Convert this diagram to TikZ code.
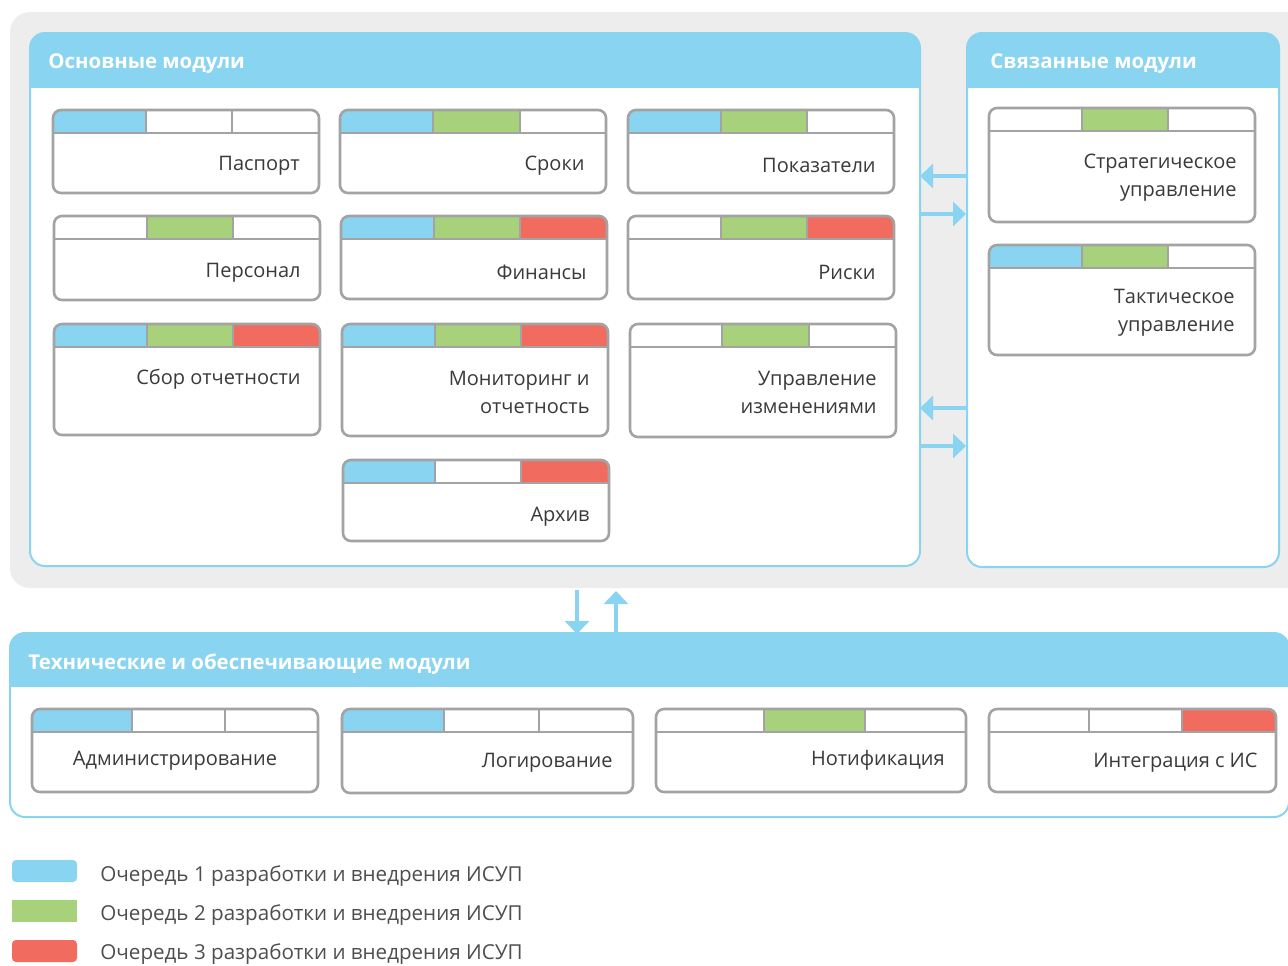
\documentclass[tikz,border=0pt]{standalone}
\usepackage{fontspec}
\setmainfont{Open Sans}
\usetikzlibrary{arrows.meta}
\definecolor{cblue}{HTML}{89D4F1}
\definecolor{cgreen}{HTML}{A7D27B}
\definecolor{cred}{HTML}{F16C5E}
\definecolor{bggray}{HTML}{EDEDED}
\definecolor{mline}{HTML}{A3A3A3}
\definecolor{txt}{HTML}{3A3A3A}
\tikzset{
  modline/.style={draw=mline, line width=1.3pt},
  panelline/.style={draw=cblue, line width=1pt},
  lbl/.style={inner sep=0pt, font=\fontsize{10}{14}\selectfont, text=txt, yshift=-1.3pt},
  hdr/.style={inner sep=0pt, font=\bfseries\fontsize{10.2}{14}\selectfont, text=white, anchor=west, yshift=-1.4pt},
  leg/.style={inner sep=0pt, font=\fontsize{10.3}{14}\selectfont, text=txt!90, anchor=west, yshift=-1.2pt},
  flow/.style={draw=cblue, line width=2.2pt, -{Triangle[width=12pt,length=6.5pt]}},
}
\newcommand\modul[9]{%
  \begin{scope}
    \clip[rounded corners=4pt] (#1,#2) rectangle (#3,#4);
    \fill[#7] (#1,#2) rectangle (#5,{#2+23});
    \fill[#8] (#5,#2) rectangle (#6,{#2+23});
    \fill[#9] (#6,#2) rectangle (#3,{#2+23});
  \end{scope}
  \draw[modline] (#1,{#2+23}) -- (#3,{#2+23}) (#5,#2) -- (#5,{#2+23}) (#6,#2) -- (#6,{#2+23});
  \draw[modline, rounded corners=4pt] (#1,#2) rectangle (#3,#4);
}
\newcommand\panel[5]{% x1 y1 x2 y2 headerbottom
  \fill[white, rounded corners=7.5pt] (#1,#2) rectangle (#3,#4);
  \begin{scope}
    \clip[rounded corners=7.5pt] (#1,#2) rectangle (#3,#4);
    \fill[cblue] (#1,#2) rectangle (#3,#5);
  \end{scope}
  \draw[panelline, rounded corners=7.5pt] (#1,#2) rectangle (#3,#4);
}
\begin{document}
\begin{tikzpicture}[x=0.5pt,y=-0.5pt]
\useasboundingbox (0,0) rectangle (1288,965);
\clip (0,0) rectangle (1288,965);
% grey background
\fill[bggray, rounded corners=10pt] (10,12) rectangle (1320,588);
% panels
\panel{30}{33}{920}{566}{88}
\panel{967}{33}{1279}{567}{88}
\panel{10}{633}{1289}{817}{687}
\node[hdr] (hmain) at (48,61) {Основные модули};
\node[hdr] (hrel) at (990,61) {Связанные модули};
\node[hdr] (htech) at (28,661) {Технические и обеспечивающие модули};
% row 1
\modul{53}{110}{319}{193}{146}{232}{cblue}{white}{white}
\node[lbl, anchor=east] (pasport) at (300,163) {Паспорт};
\modul{340}{110}{606}{193}{433}{520}{cblue}{cgreen}{white}
\node[lbl, anchor=east] (sroki) at (585,163) {Сроки};
\modul{628}{110}{894}{193}{721}{807}{cblue}{cgreen}{white}
\node[lbl, anchor=east] (pokaz) at (876,163) {Показатели};
% row 2
\modul{54}{216}{320}{300}{147}{233}{white}{cgreen}{white}
\node[lbl, anchor=east] (personal) at (301,270) {Персонал};
\modul{341}{216}{607}{299}{434}{520}{cblue}{cgreen}{cred}
\node[lbl, anchor=east] (finansy) at (587,270) {Финансы};
\modul{628}{216}{894}{299}{721}{807}{white}{cgreen}{cred}
\node[lbl, anchor=east] (riski) at (876,270) {Риски};
% row 3
\modul{54}{324}{320}{435}{147}{233}{cblue}{cgreen}{cred}
\node[lbl, anchor=east] (sbor) at (301,377) {Сбор отчетности};
\modul{342}{324}{608}{436}{435}{521}{cblue}{cgreen}{cred}
\node[lbl, anchor=east, align=right] (monitor) at (590,390) {Мониторинг и\\отчетность};
\modul{630}{324}{896}{437}{722}{809}{white}{cgreen}{white}
\node[lbl, anchor=east, align=right] (izmen) at (877,390) {Управление\\изменениями};
% row 4
\modul{343}{460}{609}{541}{435}{521}{cblue}{white}{cred}
\node[lbl, anchor=east] (arhiv) at (590,514) {Архив};
% related
\modul{989}{108}{1255}{222}{1082}{1168}{white}{cgreen}{white}
\node[lbl, anchor=east, align=right] (strat) at (1237,175) {Стратегическое\\управление};
\modul{989}{245}{1255}{355}{1082}{1168}{cblue}{cgreen}{white}
\node[lbl, anchor=east, align=right] (takt) at (1235,310) {Тактическое\\управление};
% technical
\modul{32}{709}{318}{792}{132}{225}{cblue}{white}{white}
\node[lbl] (admin) at (175,758) {Администрирование};
\modul{342}{709}{633}{793}{444}{539}{cblue}{white}{white}
\node[lbl, anchor=east] (log) at (613,760) {Логирование};
\modul{656}{709}{966}{792}{764}{865}{white}{cgreen}{white}
\node[lbl, anchor=east] (notif) at (945,758) {Нотификация};
\modul{989}{709}{1276}{792}{1089}{1182}{white}{white}{cred}
\node[lbl, anchor=east] (integr) at (1258,760) {Интеграция с ИС};
% connectors
\coordinate (a1r) at (966,176); \coordinate (a1l) at (920,176);
\coordinate (a2l) at (920,214); \coordinate (a2r) at (966,214);
\coordinate (a3r) at (966,408); \coordinate (a3l) at (920,408);
\coordinate (a4l) at (920,446); \coordinate (a4r) at (966,446);
\coordinate (d1t) at (577,590); \coordinate (d1b) at (577,634);
\coordinate (u1b) at (616,634); \coordinate (u1t) at (616,591);
\draw[flow] (a1r) -- (a1l);
\draw[flow] (a2l) -- (a2r);
\draw[flow] (a3r) -- (a3l);
\draw[flow] (a4l) -- (a4r);
\draw[flow] (d1t) -- (d1b);
\draw[flow] (u1b) -- (u1t);
% legend
\fill[cblue, rounded corners=2pt] (12,860) rectangle (77,882);
\fill[cgreen] (12,900) rectangle (77,922);
\fill[cred, rounded corners=2pt] (12,940) rectangle (77,962);
\node[leg] (l1) at (100,874) {Очередь 1 разработки и внедрения ИСУП};
\node[leg] (l2) at (100,913) {Очередь 2 разработки и внедрения ИСУП};
\node[leg] (l3) at (100,952) {Очередь 3 разработки и внедрения ИСУП};
\end{tikzpicture}
\end{document}
